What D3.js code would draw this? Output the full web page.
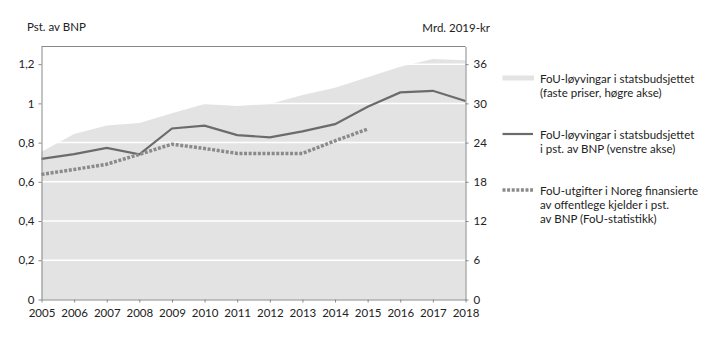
<!DOCTYPE html>
<html><head><meta charset="utf-8">
<script src="https://cdn.jsdelivr.net/npm/d3@7"></script>
<style>body{margin:0;background:#fff}svg{display:block;font-family:Lato,"Open Sans",sans-serif}</style>
</head><body><svg id="c" width="719" height="341"></svg>
<script>
const years = [2005,2006,2007,2008,2009,2010,2011,2012,2013,2014,2015,2016,2017,2018];
const budgetMrd = [22.6,25.3,26.6,27.0,28.5,29.9,29.6,29.9,31.3,32.4,34.0,35.6,36.8,36.6];
const budgetPct = [0.717,0.741,0.773,0.740,0.872,0.886,0.838,0.827,0.857,0.894,0.983,1.056,1.064,1.012];
const rdYears = [2005,2006,2007,2008,2009,2010,2011,2012,2013,2014,2015];
const rdPct = [0.638,0.663,0.690,0.740,0.792,0.770,0.745,0.745,0.745,0.809,0.869];
const leftTicks = [0,0.2,0.4,0.6,0.8,1,1.2];
const rightTicks = [0,6,12,18,24,30,36];
const legendLabels = [
  ["FoU-løyvingar i statsbudsjettet","(faste priser, høgre akse)"],
  ["FoU-løyvingar i statsbudsjettet","i pst. av BNP (venstre akse)"],
  ["FoU-utgifter i Noreg finansierte","av offentlege kjelder i pst.","av BNP (FoU-statistikk)"]
];

const FONT = "Lato,'Open Sans',sans-serif";
const svg = d3.select("#c");
const L=41.5, R=465.5, T=46.5, B=299.5;
const x = d3.scaleLinear().domain([2005,2018]).range([L,R]);
const yL = d3.scaleLinear().domain([0,1.29]).range([B,T]);
const yR = d3.scaleLinear().domain([0,38.7]).range([B,T]);
const fmt = d => String(d).replace(".",",");

svg.append("path")
  .datum(years.map((yr,i)=>[yr,budgetMrd[i]]))
  .attr("fill","#e3e3e3")
  .attr("d", d3.area().x(d=>x(d[0])).y0(B).y1(d=>yR(d[1])));

svg.append("g").selectAll("line").data(leftTicks.filter(d=>d>0)).join("line")
  .attr("x1",L).attr("x2",R).attr("y1",d=>yL(d)).attr("y2",d=>yL(d))
  .attr("stroke","#fff").attr("stroke-width",1.5);

svg.append("line").attr("x1",L).attr("x2",R).attr("y1",T).attr("y2",T).attr("stroke","#888").attr("stroke-width",1);

svg.append("path").datum(years.map((yr,i)=>[yr,budgetPct[i]]))
  .attr("fill","none").attr("stroke","#6b6b6b").attr("stroke-width",2.2)
  .attr("d", d3.line().x(d=>x(d[0])).y(d=>yL(d[1])));
svg.append("path").datum(rdYears.map((yr,i)=>[yr,rdPct[i]]))
  .attr("fill","none").attr("stroke","#8a8a8a").attr("stroke-width",3.5).attr("stroke-dasharray","3,1.6")
  .attr("d", d3.line().x(d=>x(d[0])).y(d=>yL(d[1])));

function styleAxis(g){
  g.select(".domain").attr("stroke","#888");
  g.selectAll(".tick line").attr("stroke","#888");
  g.selectAll("text").attr("fill","#222").style("font-size","11.5px").style("font-family",FONT);
}
svg.append("g").attr("transform",`translate(${L},0)`)
  .call(d3.axisLeft(yL).tickValues(leftTicks).tickFormat(fmt).tickSize(3).tickSizeOuter(0).tickPadding(4))
  .call(styleAxis);
svg.append("g").attr("transform",`translate(${R},0)`)
  .call(d3.axisRight(yR).tickValues(rightTicks).tickSize(3).tickSizeOuter(0).tickPadding(5))
  .call(styleAxis);
svg.append("g").attr("transform",`translate(0,${B})`)
  .call(d3.axisBottom(x).tickValues(years).tickFormat(d3.format("d")).tickSize(3).tickSizeOuter(0).tickPadding(6))
  .call(styleAxis);

svg.append("text").attr("x",27).attr("y",31).text("Pst. av BNP").attr("fill","#222").style("font-size","11.5px");
svg.append("text").attr("x",490).attr("y",32).attr("text-anchor","end").text("Mrd. 2019-kr").attr("fill","#222").style("font-size","11.5px");

const lx0=502.5, lx1=534, tx=540;
const lg = svg.append("g");
lg.append("rect").attr("x",lx0).attr("y",75.5).attr("width",lx1-lx0).attr("height",5).attr("fill","#e3e3e3");
lg.append("line").attr("x1",lx0).attr("x2",lx1-1).attr("y1",134).attr("y2",134).attr("stroke","#6b6b6b").attr("stroke-width",2.2);
lg.append("line").attr("x1",lx0).attr("x2",lx1-1).attr("y1",190).attr("y2",190).attr("stroke","#8a8a8a").attr("stroke-width",3.5).attr("stroke-dasharray","3,1.6");
const starts=[83.3,139,194.7];
legendLabels.forEach((lines,i)=>{
  const t = lg.append("text").attr("fill","#222").style("font-size","11.5px");
  lines.forEach((s,j)=>t.append("tspan").attr("x",tx).attr("y",starts[i]+j*14).text(s));
});
</script></body></html>
